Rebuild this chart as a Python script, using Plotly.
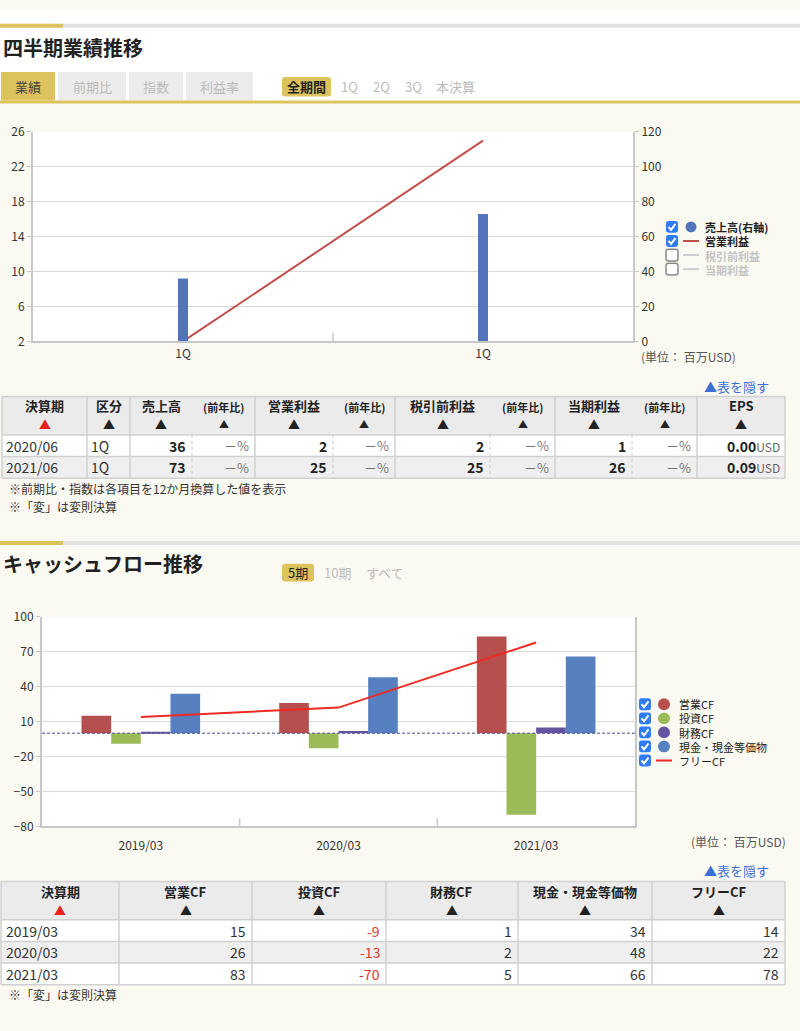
import plotly.graph_objects as go

W, H = 800, 1031
FONT = "Noto Sans CJK JP, Noto Sans, sans-serif"


def X(x):
    return x / W


def Y(y):
    return 1 - y / H


# ---------------- data ----------------
q_ticks = ["1Q", "1Q"]
q_periods = ["2020/06", "2021/06"]
q_kubun = ["1Q", "1Q"]
q_sales = [36, 73]
q_op = [2, 25]
q_pretax = [2, 25]
q_net = [1, 26]
q_yoy = ["－%", "－%"]
q_eps = ["0.00", "0.09"]

cf_periods = ["2019/03", "2020/03", "2021/03"]
cf_op = [15, 26, 83]
cf_inv = [-9, -13, -70]
cf_fin = [1, 2, 5]
cf_cash = [34, 48, 66]
cf_free = [14, 22, 78]

# colours
C_SALES = "#5174bb"
C_OPLINE = "#c0504d"
C_CFOP = "#b5504f"
C_CFINV = "#9bbb59"
C_CFFIN = "#65549f"
C_CFCASH = "#5680c0"
C_FREE = "#ee2a22"
GOLD = "#dcc35e"
CREAM = "#fbfaf2"
GRID = "#d9d9d9"
AXIS = "#c8c8c8"
TXT = "#333333"

fig = go.Figure()

# ---------------- chart 1 ----------------
fig.add_trace(go.Bar(x=[0, 1], y=q_sales, xaxis="x", yaxis="y2", width=10 / 300,
                     marker=dict(color=C_SALES, line=dict(width=0)), name="売上高(右軸)",
                     showlegend=False))
fig.add_trace(go.Scatter(x=[0, 1], y=q_op, xaxis="x", yaxis="y", mode="lines",
                         line=dict(color=C_OPLINE, width=2), name="営業利益", showlegend=False))

# ---------------- chart 2 ----------------
for vals, col, nm in [(cf_op, C_CFOP, "営業CF"), (cf_inv, C_CFINV, "投資CF"),
                      (cf_fin, C_CFFIN, "財務CF"), (cf_cash, C_CFCASH, "現金・現金等価物")]:
    fig.add_trace(go.Bar(x=cf_periods, y=vals, xaxis="x2", yaxis="y3", name=nm,
                         marker=dict(color=col, line=dict(width=0)), showlegend=False))
fig.add_trace(go.Scatter(x=cf_periods, y=cf_free, xaxis="x2", yaxis="y3", mode="lines",
                         line=dict(color=C_FREE, width=2), name="フリーCF", showlegend=False))

tickfont = dict(family=FONT, size=12, color=TXT)

layout = dict(
    width=W, height=H,
    margin=dict(l=0, r=0, t=0, b=0),
    paper_bgcolor=CREAM, plot_bgcolor="white",
    barmode="group", bargap=0.4, bargroupgap=0,
    font=dict(family=FONT, color=TXT),
    xaxis=dict(domain=[X(33), X(633)], anchor="y", range=[-0.5, 1.5],
               tickvals=[0, 1], ticktext=q_ticks, showgrid=False, zeroline=False,
               showline=True, linecolor=AXIS, linewidth=2, ticks="", tickfont=tickfont,
               fixedrange=True),
    yaxis=dict(domain=[Y(337), Y(124)], anchor="x", range=[2, 26],
               tickvals=[2, 6, 10, 14, 18, 22, 26], showgrid=True, gridcolor=GRID,
               zeroline=False, showline=True, linecolor=AXIS, linewidth=2,
               ticks="outside", ticklen=4, tickcolor=AXIS, tickfont=tickfont),
    yaxis2=dict(overlaying="y", side="right", anchor="x", range=[0, 120],
                tickvals=[0, 20, 40, 60, 80, 100, 120], showgrid=False, zeroline=False,
                showline=True, linecolor=AXIS, linewidth=2, ticks="outside", ticklen=4,
                tickcolor=AXIS, tickfont=tickfont),
    xaxis2=dict(domain=[X(42), X(635)], anchor="y3", showgrid=False, zeroline=False,
                showline=True, linecolor=AXIS, linewidth=2, ticks="outside", ticklen=7,
                tickcolor="rgba(0,0,0,0)", tickfont=tickfont, type="category"),
    yaxis3=dict(domain=[Y(830), Y(617)], anchor="x2", range=[-80, 100],
                tickvals=[-80, -50, -20, 10, 40, 70, 100], showgrid=True, gridcolor=GRID,
                zeroline=False, showline=True, mirror=True, linecolor=AXIS, linewidth=2,
                ticks="outside", ticklen=4, tickcolor=AXIS, tickfont=tickfont),
)

shapes = []
annots = []


def rect(x0, y0, x1, y1, fill, lc=None, lw=0, layer="below"):
    shapes.append(dict(type="rect", xref="paper", yref="paper", x0=X(x0), x1=X(x1),
                       y0=Y(y1), y1=Y(y0), fillcolor=fill, layer=layer,
                       line=dict(color=lc or fill, width=lw)))


def line(x0, y0, x1, y1, color, w=1, dash="solid", layer="above"):
    shapes.append(dict(type="line", xref="paper", yref="paper", x0=X(x0), x1=X(x1),
                       y0=Y(y0), y1=Y(y1), layer=layer,
                       line=dict(color=color, width=w, dash=dash)))


def rrect(x0, y0, x1, y1, r, fill, lc=None, lw=0, layer="above"):
    p = (f"M {X(x0 + r)},{Y(y0)} L {X(x1 - r)},{Y(y0)} Q {X(x1)},{Y(y0)} {X(x1)},{Y(y0 + r)} "
         f"L {X(x1)},{Y(y1 - r)} Q {X(x1)},{Y(y1)} {X(x1 - r)},{Y(y1)} "
         f"L {X(x0 + r)},{Y(y1)} Q {X(x0)},{Y(y1)} {X(x0)},{Y(y1 - r)} "
         f"L {X(x0)},{Y(y0 + r)} Q {X(x0)},{Y(y0)} {X(x0 + r)},{Y(y0)} Z")
    shapes.append(dict(type="path", xref="paper", yref="paper", path=p, fillcolor=fill,
                       layer=layer, line=dict(color=lc or fill, width=lw)))


def text(x, y, s, size=12, color=TXT, anchor="left", bold=False):
    if bold:
        s = f"<b>{s}</b>"
    annots.append(dict(xref="paper", yref="paper", x=X(x), y=Y(y), text=s, showarrow=False,
                       xanchor=anchor, yanchor="middle",
                       align=anchor if anchor != "center" else "center",
                       font=dict(family=FONT, size=size, color=color), borderpad=0))


def checkbox(x, y, checked=True):
    if checked:
        rrect(x, y, x + 12, y + 12, 2.5, "#2f7cf6")
        p = f"M {X(x + 2.5)},{Y(y + 6)} L {X(x + 5)},{Y(y + 9)} L {X(x + 9.5)},{Y(y + 3)}"
        shapes.append(dict(type="path", xref="paper", yref="paper", path=p,
                           line=dict(color="white", width=2), layer="above"))
    else:
        rrect(x, y, x + 12, y + 12, 2.5, "white", lc="#8a8a8a", lw=1.5)


def dot(x, y, r, color):
    shapes.append(dict(type="circle", xref="paper", yref="paper", x0=X(x - r), x1=X(x + r),
                       y0=Y(y + r), y1=Y(y - r), fillcolor=color, line=dict(width=0),
                       layer="above"))


def legend(items, mid, x_box, x_sym, x_txt, size, sym_r):
    n = len(items)
    step = size * 1.3
    lines = []
    for k, (chk, kind, col, lab, tcol, bold) in enumerate(items):
        yc = mid + (k - (n - 1) / 2) * step
        checkbox(x_box, yc - 6, chk)
        if kind == "dot":
            dot(x_sym, yc, sym_r, col)
        else:
            line(x_sym - 8, yc, x_sym + 8, yc, col, w=2)
        s = f"<span style='color:{tcol}'>{lab}</span>"
        if bold:
            s = f"<b>{s}</b>"
        lines.append(s)
    text(x_txt, mid + 0.5, "<br>".join(lines), size=size, color=TXT)


def header_cell(xc, y_lab, y_tri, lab, size, red=False):
    text(xc, y_lab, lab, size=size, color="#222", anchor="center", bold=True)
    text(xc, y_tri, "▲", size=size - 1, color="#e8231f" if red else "#222", anchor="center")


# ---------------- page header (section 1) ----------------
rect(0, 0, 800, 94, "white")
line(0, 16, 800, 16, "#e2e2e2", w=4)
line(0, 16, 63, 16, GOLD, w=4)
text(2, 38, "四半期業績推移", size=20, color="#222", bold=True)
rect(1, 63, 55, 92, GOLD)
text(28, 78, "業績", size=13, color="#444", anchor="center")
for x0, x1, lab in [(58, 126, "前期比"), (129, 183, "指数"), (186, 253, "利益率")]:
    rect(x0, 63, x1, 92, "#ececec")
    text((x0 + x1) / 2, 78, lab, size=13, color="#bbbbbb", anchor="center")
rect(0, 92, 800, 95, GOLD)
rrect(282, 68, 331, 88, 3, GOLD, layer="below")
text(306.5, 78, "全期間", size=13, color="#222", anchor="center", bold=True)
for xc, lab in [(349, "1Q"), (381, "2Q"), (413, "3Q"), (455, "本決算")]:
    text(xc, 78, lab, size=13, color="#bbbbbb", anchor="center")

# chart1 category divider
shapes.append(dict(type="line", xref="x", yref="paper", x0=0.5, x1=0.5, y0=Y(337), y1=Y(328),
                   line=dict(color=AXIS, width=1.5), layer="above"))

# chart 1 legend
legend([(True, "dot", C_SALES, "売上高(右軸)", "#222", True),
        (True, "line", C_OPLINE, "営業利益", "#222", True),
        (False, "line", "#cccccc", "税引前利益", "#c4c4c4", True),
        (False, "line", "#cccccc", "当期利益", "#c4c4c4", True)],
       mid=242, x_box=666, x_sym=691, x_txt=704, size=11, sym_r=5.5)
text(640, 352, "(単位：&nbsp;百万USD)", size=12, color="#555")

# ---------------- table 1 ----------------
text(770, 383, "▲表を隠す", size=13, color="#3a6fd8", anchor="right")
t1_cols = [2, 87, 130, 192, 255, 333, 395, 490, 555, 632, 697, 785]
t1_rows = [393, 432, 454, 476]
rect(2, 393, 785, 432, "#ebebeb")
rect(2, 432, 785, 454, "white")
rect(2, 454, 785, 476, "#efefef")
for yy in t1_rows:
    line(2, yy, 785, yy, "#d0d0d0", w=1.5)
for i, xx in enumerate(t1_cols):
    if xx in (192, 333, 490, 632):
        line(xx, 432, xx, 476, "#c8c8c8", w=1, dash="dot")
    else:
        line(xx, 393, xx, 476, "#d0d0d0", w=1.5)

hdrs1 = [("決算期", 2, 87, True, 13), ("区分", 87, 130, False, 13), ("売上高", 130, 192, False, 13),
         ("(前年比)", 192, 255, False, 11), ("営業利益", 255, 333, False, 13),
         ("(前年比)", 333, 395, False, 11), ("税引前利益", 395, 490, False, 13),
         ("(前年比)", 490, 555, False, 11), ("当期利益", 555, 632, False, 13),
         ("(前年比)", 632, 697, False, 11), ("EPS", 697, 785, False, 13)]
for lab, x0, x1, red, sz in hdrs1:
    if sz == 13:
        header_cell((x0 + x1) / 2, 402, 421.5, lab, sz, red)
    else:
        header_cell((x0 + x1) / 2, 403.5, 420, lab, sz, red)

for i in range(len(q_periods)):
    yc = 443 + 22 * i
    text(5, yc, q_periods[i], size=14, color="#333")
    text(90, yc, q_kubun[i], size=14, color="#333")
    nums = [q_sales[i], q_op[i], q_pretax[i], q_net[i]]
    rights = [(187, 250), (328, 390), (485, 550), (627, 692)]
    for v, (rv, ry) in zip(nums, rights):
        text(rv, yc, str(v), size=14, color="#222", anchor="right", bold=True)
        text(ry, yc, q_yoy[i], size=13, color="#777", anchor="right")
    text(781, yc, f"<b>{q_eps[i]}</b><span style='font-size:12px;color:#666'>USD</span>",
         size=14, color="#222", anchor="right")

text(8, 487, "※前期比・指数は各項目を12か月換算した値を表示", size=12, color="#333")
text(8, 505, "※「変」は変則決算", size=12, color="#333")

# ---------------- section 2 header ----------------
line(0, 542, 800, 542, "#e2e2e2", w=4)
line(0, 542, 63, 542, GOLD, w=4)
text(2, 563, "キャッシュフロー推移", size=20, color="#222", bold=True)
rrect(282, 563, 314, 581, 3, GOLD, layer="below")
text(298, 572, "5期", size=13, color="#222", anchor="center")
text(337, 572, "10期", size=13, color="#bbbbbb", anchor="center")
text(385, 572, "すべて", size=13, color="#bbbbbb", anchor="center")

# chart2 zero dashed line and dividers
shapes.append(dict(type="line", xref="paper", yref="y3", x0=X(42), x1=X(635), y0=0, y1=0,
                   line=dict(color="#4b4b8c", width=1, dash="3px,2px"), layer="above"))
for xv in (0.5, 1.5):
    shapes.append(dict(type="line", xref="x2", yref="paper", x0=xv, x1=xv, y0=Y(830),
                       y1=Y(822), line=dict(color=AXIS, width=1.5), layer="above"))

# chart 2 legend
legend([(True, "dot", C_CFOP, "営業CF", "#222", False),
        (True, "dot", C_CFINV, "投資CF", "#222", False),
        (True, "dot", C_CFFIN, "財務CF", "#222", False),
        (True, "dot", C_CFCASH, "現金・現金等価物", "#222", False),
        (True, "line", C_FREE, "フリーCF", "#222", False)],
       mid=734.5, x_box=639, x_sym=664, x_txt=678, size=11, sym_r=6)
text(690, 845, "(単位：&nbsp;百万USD)", size=12, color="#555")

# ---------------- table 2 ----------------
text(770, 875, "▲表を隠す", size=13, color="#3a6fd8", anchor="right")
t2_cols = [1, 119, 252, 386, 518, 652, 785]
t2_rows = [886, 925, 947, 969, 991]
rect(1, 886, 785, 925, "#ebebeb")
rect(1, 925, 785, 947, "white")
rect(1, 947, 785, 969, "#efefef")
rect(1, 969, 785, 991, "white")
for yy in t2_rows:
    line(1, yy, 785, yy, "#d0d0d0", w=1.5)
for xx in t2_cols:
    line(xx, 886, xx, 991, "#d0d0d0", w=1.5)
hdrs2 = ["決算期", "営業CF", "投資CF", "財務CF", "現金・現金等価物", "フリーCF"]
for j, lab in enumerate(hdrs2):
    header_cell((t2_cols[j] + t2_cols[j + 1]) / 2, 896.5, 916, lab, 13, red=(j == 0))
series2 = [cf_op, cf_inv, cf_fin, cf_cash, cf_free]
for i, per in enumerate(cf_periods):
    yc = 936 + 22 * i
    text(5, yc, per, size=14, color="#333")
    for j, ser in enumerate(series2):
        v = ser[i]
        col = "#e8332b" if v < 0 else "#333"
        text(t2_cols[j + 2] - 5, yc, str(v), size=14, color=col, anchor="right")
text(8, 1001, "※「変」は変則決算", size=12, color="#333")

layout["shapes"] = shapes
layout["annotations"] = annots
fig.update_layout(**layout)
fig.write_html("out.html", config={"displayModeBar": False})
